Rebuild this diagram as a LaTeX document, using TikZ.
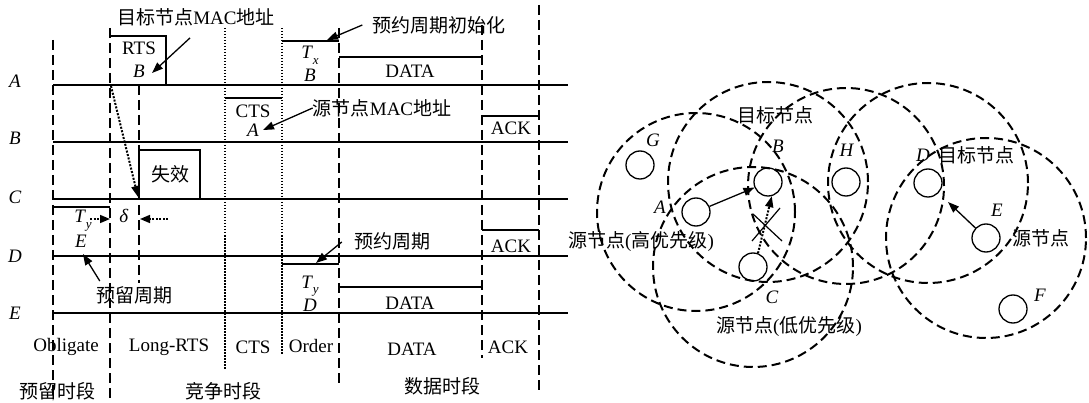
\documentclass[tikz,border=0pt]{standalone}
\usepackage{fontspec}
\setmainfont{Liberation Serif}
\newfontfamily\cjkfont{Noto Sans CJK SC}
\newcommand{\zh}[1]{{\cjkfont #1}}
\newcommand{\iv}[1]{\textit{#1}}
\newcommand{\subsc}[1]{\raisebox{-0.3em}{\fontsize{13}{14}\selectfont\textit{#1}}}
\usetikzlibrary{arrows.meta}
\begin{document}
\begin{tikzpicture}[x=1pt,y=-1pt,
  every node/.style={inner sep=0pt,font=\fontsize{19}{22}\selectfont},
  sig/.style={line width=1.4pt},
  divdash/.style={line width=2pt,dash pattern=on 10pt off 5pt},
  divdot/.style={line width=1.5pt,dash pattern=on 1.5pt off 1.5pt},
  rng/.style={line width=2pt,dash pattern=on 9pt off 5pt},
  dev/.style={circle,draw,line width=1.3pt,minimum size=28pt},
  arr/.style={line width=1.3pt,-{Triangle[length=11pt,width=8pt]}},
  darr/.style={line width=2pt,dash pattern=on 2pt off 1.5pt,-{Triangle[length=11pt,width=8pt]}},
  sarr/.style={line width=1.5pt,dash pattern=on 2pt off 1.5pt,-{Triangle[length=10pt,width=8pt]}},
  lab/.style={anchor=base},
]
\useasboundingbox (0,0) rectangle (1089,403);
% ---- timing diagram: signal lines
\draw[sig] (53,85)--(568,85);
\draw[sig] (53,142)--(568,142);
\draw[sig] (53,199)--(568,199);
\draw[sig] (53,256)--(568,256);
\draw[sig] (53,313)--(568,313);
% boxes
\draw[sig] (110,36)--(166,36)--(166,85);
\draw[sig] (282,41)--(339,41);
\draw[sig] (339,57)--(482,57);
\draw[sig] (225,98)--(282,98);
\draw[sig] (482,116)--(539,116);
\draw[sig] (139,199)--(139,150)--(200,150)--(200,199);
\draw[sig] (53,207)--(110,207);
\draw[sig] (482,230)--(539,230);
\draw[sig] (282,264)--(339,264);
\draw[sig] (339,287)--(482,287);
% dividers
\draw[divdash] (53,40)--(53,400);
\draw[divdash] (110,28)--(110,400);
\draw[divdash] (139,85)--(139,283);
\draw[divdot] (225,28)--(225,369);
\draw[divdot] (282,28)--(282,355);
\draw[divdash] (339,28)--(339,385);
\draw[divdash] (482,25)--(482,358);
\draw[divdash] (539,5)--(539,390);
% row labels
\node[lab] (rA) at (15,88) {\iv{A}};
\node[lab] (rB) at (15,145) {\iv{B}};
\node[lab] (rC) at (15,204) {\iv{C}};
\node[lab] (rD) at (15,262) {\iv{D}};
\node[lab] (rE) at (15,319) {\iv{E}};
% texts in boxes
\node[lab] (tRTS) at (139,55) {RTS};
\node[lab] (tRB) at (139,78) {\iv{B}};
\node (tMAC) at (196,17) {\zh{目标节点}MAC\zh{地址}};
\node[lab] (tTx) at (310,59) {\iv{T}\subsc{x}};
\node[lab] (tTxB) at (310,82) {\iv{B}};
\node[lab] (tDA) at (410,78) {DATA};
\node (tInit) at (439,25) {\zh{预约周期初始化}};
\node[lab] (tCTS) at (253,118) {CTS};
\node[lab] (tCA) at (253,137) {\iv{A}};
\node (tSrc) at (382,108) {\zh{源节点}MAC\zh{地址}};
\node[lab] (tAckB) at (511,135) {ACK};
\node (tFail) at (170,174) {\zh{失效}};
\node[lab] (tTyE) at (83,223) {\iv{T}\subsc{y}};
\node[lab] (tDelta) at (124,223) {\iv{δ}};
\node[lab] (tE) at (81,248) {\iv{E}};
\node (tRes) at (134,295) {\zh{预留周期}};
\node (tOrd) at (392,241) {\zh{预约周期}};
\node[lab] (tAckD) at (511,253) {ACK};
\node[lab] (tTyD) at (310,288) {\iv{T}\subsc{y}};
\node[lab] (tDD) at (310,311) {\iv{D}};
\node[lab] (tDE) at (410,309) {DATA};
% phase labels
\node[lab] (pOb) at (66,351) {Obligate};
\node[lab] (pLR) at (169,351) {Long-RTS};
\node[lab] (pCTS) at (253,353) {CTS};
\node[lab] (pOrd) at (311,352) {Order};
\node[lab] (pDATA) at (412,355) {DATA};
\node[lab] (pACK) at (508,353) {ACK};
\node (sRes) at (57,391) {\zh{预留时段}};
\node (sCon) at (223,391) {\zh{竞争时段}};
\node (sDat) at (442,386) {\zh{数据时段}};
% arrows in timing diagram
\coordinate (cMAC) at (152,73);
\coordinate (cSrc) at (263,130);
\coordinate (cInit) at (327,40);
\coordinate (cOrd) at (316,263);
\coordinate (cRes) at (83,254);
\coordinate (cRTS) at (111,86);
\coordinate (cC) at (138,197);
\coordinate (cTyS) at (90,219);
\coordinate (cTyT) at (110,219);
\coordinate (cDeS) at (168,219);
\coordinate (cDeT) at (140,219);
\draw[arr] ([xshift=-6pt,yshift=-12pt]tMAC.south) -- (cMAC);
\draw[arr] (tSrc.west) -- (cSrc);
\draw[arr] ([xshift=-10pt]tInit.west) -- (cInit);
\draw[arr] ([xshift=-12pt,yshift=-1pt]tOrd.west) -- (cOrd);
\draw[arr] ([xshift=4pt,yshift=5pt]tRes.north west) -- (cRes);
\draw[darr] (cRTS) -- (cC);
\draw[sarr] (cTyS) -- (cTyT);
\draw[sarr] (cDeS) -- (cDeT);
% ---- network diagram
\node[dev] (nG) at (640,165) {};
\node[dev] (nA) at (696,212) {};
\node[dev] (nB) at (768,182) {};
\node[dev] (nH) at (846,182) {};
\node[dev] (nD) at (928,183) {};
\node[dev] (nE) at (986,238) {};
\node[dev] (nF) at (1013,309) {};
\node[dev] (nC) at (753,267) {};
\draw[rng] (nA.center) circle[radius=99pt];
\draw[rng] (nB.center) circle[radius=100pt];
\draw[rng] (nC.center) circle[radius=100pt];
\draw[rng] ([yshift=-4pt]nH.center) circle[radius=98pt];
\draw[rng] (nD.center) circle[radius=100pt];
\draw[rng] (nE.center) circle[radius=100pt];
\node (lG) at (653,140) {\iv{G}};
\node (lA) at (660,207) {\iv{A}};
\node (lB) at (778,146) {\iv{B}};
\node (lH) at (847,150) {\iv{H}};
\node (lD) at (923,155) {\iv{D}};
\node (lE) at (997,210) {\iv{E}};
\node (lF) at (1040,295) {\iv{F}};
\node (lC) at (772,297) {\iv{C}};
\node (lTgB) at (775,115) {\zh{目标节点}};
\node (lSrcA) at (641,242) {\zh{源节点}(\zh{高优先级})};
\node (lSrcC) at (789,327) {\zh{源节点}(\zh{低优先级})};
\node (lTgD) at (976,155) {\zh{目标节点}};
\node (lSrcE) at (1041,238) {\zh{源节点}};
\draw[arr] (nA) -- (nB);
\draw[darr] (nC.70) -- (nB.-75);
\draw[arr,shorten >=13pt] (nE) -- (nD);
\draw[line width=1.2pt] (753,214)--(782,241) (780,208)--(752,241);
\end{tikzpicture}
\end{document}
